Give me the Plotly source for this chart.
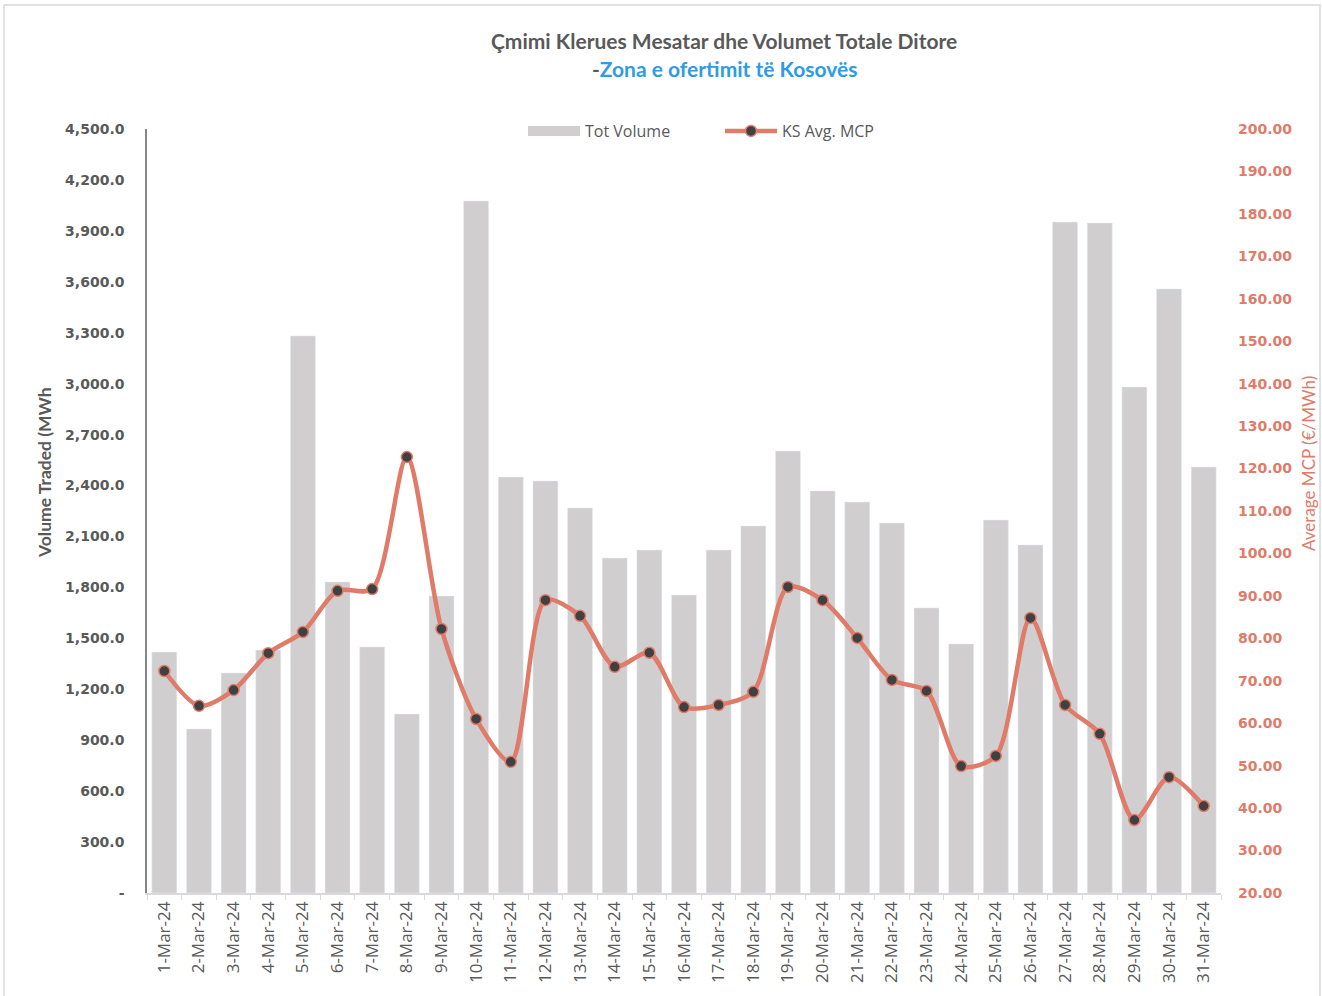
import plotly.graph_objects as go

dates = [f"{d}-Mar-24" for d in range(1, 32)]
volume = [1419, 966, 1296, 1431, 3281, 1832, 1449, 1054, 1749, 4076,
          2450, 2427, 2268, 1973, 2020, 1755, 2020, 2162, 2603, 2368,
          2303, 2179, 1679, 1467, 2197, 2050, 3952, 3946, 2980, 3558, 2509]
mcp = [72.3, 64.1, 67.8, 76.5, 81.5, 91.2, 91.6, 122.7, 82.2, 61.0,
       50.9, 89.0, 85.3, 73.3, 76.6, 63.8, 64.3, 67.4, 92.1, 89.0,
       80.1, 70.2, 67.6, 49.9, 52.3, 84.8, 64.3, 57.5, 37.2, 47.3, 40.5]

left_ticks = list(range(0, 4501, 300))
left_text = ["-"] + [f"{v:,.1f}" for v in left_ticks[1:]]
right_ticks = list(range(20, 201, 10))
right_text = [f"{v:.2f}" for v in right_ticks]

GRAY = "#595959"
SALMON = "#E07B6A"
BAR = "#D0CECF"

fig = go.Figure()
fig.add_trace(go.Bar(x=dates, y=volume, name="Tot Volume", marker_color=BAR,
                     yaxis="y", showlegend=False))
fig.add_trace(go.Scatter(x=[None], y=[None], name="Tot Volume", mode="lines",
                         line=dict(color=BAR, width=11), yaxis="y"))
fig.add_trace(go.Scatter(x=dates, y=mcp, name="KS Avg. MCP", yaxis="y2",
                         mode="lines+markers", line=dict(color=SALMON, width=4.5, shape="spline", smoothing=0.8),
                         marker=dict(color="#404040", size=11, line=dict(color=SALMON, width=1.5))))

W, H = 1322, 996
L, R, T, B = 147, 101, 129, 103
pw, ph = W - L - R, H - T - B


def px(x):
    return (x - L) / pw


def py(y):
    return (H - B - y) / ph


fig.update_layout(
    width=W, height=H,
    margin=dict(l=L, r=R, t=T, b=B),
    plot_bgcolor="white", paper_bgcolor="white",
    bargap=0.28,
    showlegend=True,
    legend=dict(orientation="h", x=px(720), xanchor="center", y=py(131), yanchor="middle",
                font=dict(family="Open Sans", size=16, color=GRAY), bgcolor="rgba(0,0,0,0)",
                itemwidth=52, entrywidth=130, traceorder="normal"),
    xaxis=dict(type="category", range=[-0.5, 30.5], tickangle=-90, showline=True, linecolor="#D9D9D9", linewidth=1.5,
               ticks="outside", tickcolor="#D9D9D9", ticklen=5, tickson="boundaries",
               tickfont=dict(family="Open Sans", size=17, color=GRAY), showgrid=False),
    yaxis=dict(range=[0, 4500], tickvals=left_ticks, ticktext=left_text, showgrid=False,
               showline=True, linecolor="#868686", linewidth=1.5, zeroline=False,
               ticklabelstandoff=18,
               tickfont=dict(family="DejaVu Sans", size=14, color=GRAY, weight="bold")),
    yaxis2=dict(range=[20, 200], tickvals=right_ticks, ticktext=right_text, overlaying="y", side="right",
                showgrid=False, showline=False, zeroline=False, ticklabelstandoff=16,
                tickfont=dict(family="DejaVu Sans", size=14, color=SALMON, weight="bold")),
)

fig.add_annotation(xref="paper", yref="paper", x=px(724), y=py(41),
                   text="<b>Çmimi Klerues Mesatar dhe Volumet Totale Ditore</b>", showarrow=False,
                   font=dict(family="Lato", size=21, color=GRAY), yanchor="middle", xanchor="center")
fig.add_annotation(xref="paper", yref="paper", x=px(724), y=py(68),
                   text="<b>-<span style='color:#2E9BE8'>Zona e ofertimit të Kosovës</span></b>", showarrow=False,
                   font=dict(family="Lato", size=21, color=GRAY), yanchor="middle", xanchor="center")
fig.add_annotation(xref="paper", yref="paper", x=px(44), y=py(473), textangle=-90,
                   text="<b>Volume Traded (MWh</b>", showarrow=False,
                   font=dict(family="Lato", size=17.5, color=GRAY), yanchor="middle", xanchor="center")
fig.add_annotation(xref="paper", yref="paper", x=px(1308), y=py(464), textangle=-90,
                   text="Average MCP (€/MWh)", showarrow=False,
                   font=dict(family="Lato", size=17, color=SALMON), yanchor="middle", xanchor="center")

fig.add_shape(type="rect", xref="paper", yref="paper",
              x0=px(4), x1=px(W - 2), y0=py(H + 10), y1=py(5),
              line=dict(color="#D9D9D9", width=1.5), fillcolor="rgba(0,0,0,0)", layer="below")

fig.write_html("out.html", config={"displayModeBar": False},
               post_script="document.body.style.margin='0';document.body.style.overflow='hidden';")
